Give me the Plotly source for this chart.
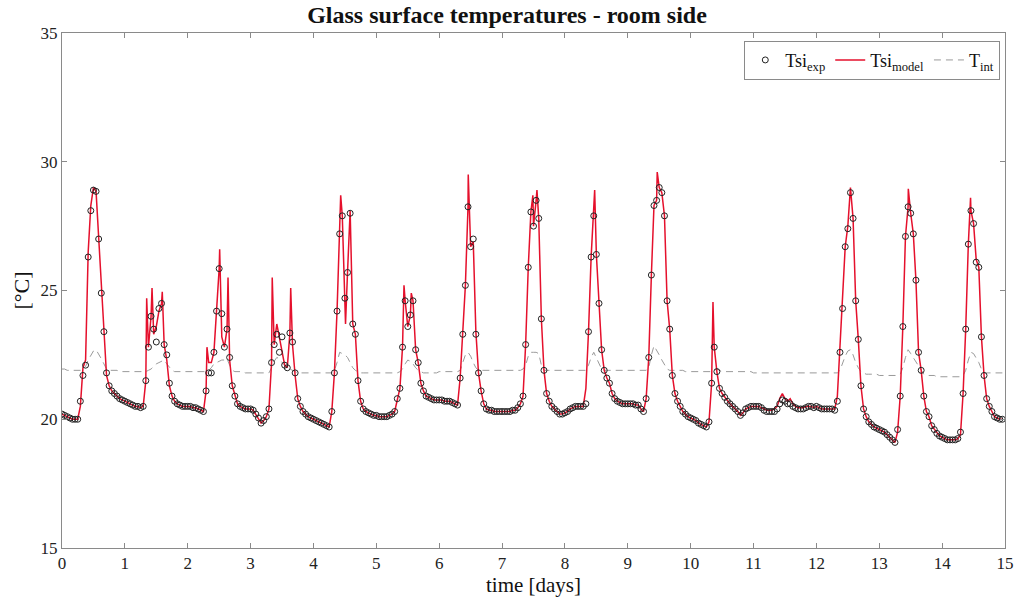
import numpy as np
import plotly.graph_objects as go

# ---------------- data (hourly, day by day) ----------------
exp_days = [
    [20.2,20.15,20.1,20.05,20.0,20.0,20.0,20.7,21.7,22.1,26.3,28.1,28.9,28.85,27.0,24.9,23.4,21.8,21.3,21.1,21.0,20.9,20.8,20.75],
    [20.7,20.65,20.6,20.55,20.5,20.5,20.45,20.5,21.5,22.8,24.0,23.5,23.0,24.3,24.5,22.9,22.5,21.4,20.9,20.7,20.6,20.55,20.5,20.5],
    [20.5,20.5,20.45,20.45,20.4,20.35,20.3,21.1,21.8,21.8,22.6,24.2,25.85,24.1,22.8,23.5,22.4,21.3,20.9,20.6,20.5,20.45,20.4,20.4],
    [20.4,20.35,20.2,20.05,19.85,19.95,20.1,20.4,22.2,22.9,23.3,22.6,23.2,22.1,22.0,23.35,23.0,21.8,20.8,20.5,20.3,20.2,20.1,20.05],
    [20.0,19.95,19.9,19.85,19.8,19.75,19.7,20.3,21.8,24.2,27.2,27.9,24.7,25.7,28.0,23.7,23.3,21.5,20.7,20.4,20.3,20.25,20.2,20.15],
    [20.15,20.1,20.1,20.1,20.1,20.15,20.2,20.3,20.8,21.2,22.8,24.6,23.6,24.05,24.6,22.7,22.2,21.4,21.1,20.9,20.85,20.8,20.75,20.75],
    [20.75,20.75,20.7,20.7,20.7,20.65,20.6,20.55,21.6,23.3,25.2,28.25,26.7,27.0,23.3,21.8,21.1,20.6,20.4,20.35,20.35,20.3,20.3,20.3],
    [20.3,20.3,20.3,20.3,20.35,20.35,20.45,20.6,20.9,22.9,25.9,28.05,27.5,28.5,27.8,23.9,21.9,21.0,20.7,20.5,20.4,20.3,20.2,20.2],
    [20.25,20.3,20.4,20.45,20.5,20.5,20.5,20.5,20.6,23.4,26.3,27.9,26.4,24.5,22.7,21.9,21.6,21.4,21.0,20.8,20.7,20.65,20.6,20.6],
    [20.6,20.6,20.6,20.55,20.55,20.4,20.3,20.8,22.4,25.6,28.3,28.5,29.0,28.8,27.9,24.6,23.5,21.7,21.0,20.7,20.5,20.3,20.2,20.1],
    [20.05,20.0,19.95,19.85,19.8,19.75,19.7,19.9,21.4,22.8,21.85,21.2,21.0,20.85,20.7,20.6,20.5,20.4,20.3,20.15,20.25,20.4,20.45,20.5],
    [20.5,20.5,20.5,20.45,20.35,20.3,20.3,20.3,20.3,20.4,20.6,20.75,20.7,20.6,20.6,20.5,20.45,20.4,20.4,20.4,20.45,20.5,20.5,20.45],
    [20.5,20.45,20.4,20.4,20.4,20.4,20.4,20.35,20.7,22.6,24.3,26.7,27.4,28.8,27.8,24.6,23.1,21.3,20.4,20.1,19.9,19.8,19.7,19.65],
    [19.6,19.55,19.5,19.4,19.3,19.2,19.1,19.6,20.9,23.6,27.1,28.25,28.0,27.2,25.4,22.6,21.9,20.9,20.3,20.1,19.75,19.6,19.45,19.35],
    [19.3,19.25,19.2,19.2,19.2,19.2,19.25,19.5,21.0,23.5,26.8,28.1,27.6,26.1,25.9,23.2,21.7,20.8,20.5,20.3,20.1,20.05,20.0,20.0],
]

model_days = [
    [20.2,20.15,20.1,20.05,20.0,20.0,20.0,20.5,22.0,22.3,26.5,28.3,29.0,28.85,27.0,24.9,23.4,21.7,21.3,21.1,21.0,20.9,20.8,20.75],
    [20.7,20.65,20.6,20.55,20.5,20.5,20.45,20.5,21.5,22.8,24.0,23.3,23.6,24.2,24.5,22.9,22.3,21.3,20.9,20.7,20.6,20.55,20.5,20.5],
    [20.5,20.5,20.45,20.45,20.4,20.35,20.3,21.1,22.2,22.2,22.6,24.2,25.85,23.2,22.8,23.5,22.3,21.3,20.9,20.6,20.5,20.45,20.4,20.4],
    [20.4,20.35,20.2,20.05,19.85,19.95,20.1,20.4,22.2,22.9,23.7,23.2,22.6,22.1,22.0,23.35,22.9,21.7,20.8,20.5,20.3,20.2,20.1,20.05],
    [20.0,19.95,19.9,19.85,19.8,19.75,19.7,20.3,21.8,24.2,27.2,27.9,24.7,25.7,28.1,23.7,23.3,21.5,20.7,20.4,20.3,20.25,20.2,20.15],
    [20.15,20.1,20.1,20.1,20.1,20.15,20.2,20.3,20.8,21.2,22.8,24.6,23.6,24.05,24.6,22.7,22.2,21.4,21.1,20.9,20.85,20.8,20.75,20.75],
    [20.75,20.75,20.7,20.7,20.7,20.65,20.6,20.55,21.6,23.3,25.2,28.25,26.7,26.9,23.4,21.8,21.1,20.6,20.4,20.35,20.35,20.3,20.3,20.3],
    [20.3,20.3,20.3,20.3,20.35,20.35,20.45,20.6,20.9,22.9,25.9,28.05,27.5,28.5,27.8,23.9,21.9,21.0,20.7,20.5,20.4,20.3,20.2,20.2],
    [20.25,20.3,20.4,20.45,20.5,20.5,20.5,20.5,21.2,23.4,26.3,27.9,26.4,24.5,22.7,21.9,21.6,21.4,21.0,20.8,20.7,20.65,20.6,20.6],
    [20.6,20.6,20.6,20.55,20.55,20.4,20.3,20.8,22.4,25.6,28.3,28.5,29.0,28.8,27.9,24.6,23.5,21.7,21.0,20.7,20.5,20.3,20.2,20.1],
    [20.05,20.0,19.95,19.85,19.8,19.75,19.7,19.9,21.4,22.8,21.85,21.2,21.0,20.85,20.7,20.6,20.5,20.4,20.3,20.15,20.25,20.4,20.45,20.5],
    [20.5,20.5,20.5,20.45,20.4,20.35,20.35,20.35,20.4,20.5,20.8,21.0,20.8,20.7,20.8,20.6,20.5,20.45,20.45,20.45,20.5,20.5,20.5,20.45],
    [20.5,20.45,20.4,20.4,20.4,20.4,20.4,20.4,20.9,23.0,24.6,26.7,27.5,29.0,27.8,24.6,23.1,21.3,20.4,20.1,19.9,19.8,19.7,19.65],
    [19.6,19.55,19.5,19.4,19.3,19.2,19.1,19.5,20.9,23.6,27.1,28.25,28.0,27.2,25.4,22.6,21.9,20.9,20.3,20.1,19.75,19.6,19.45,19.35],
    [19.3,19.25,19.2,19.2,19.2,19.2,19.25,19.4,21.0,23.5,26.8,28.1,27.6,26.2,25.9,23.2,21.7,20.8,20.5,20.3,20.1,20.05,20.0,20.0],
]

# extra model peaks between hourly samples (time in days, value)
model_peak_t = [1.347, 1.432, 1.595, 2.306, 2.508, 2.641, 3.344, 3.638, 4.433, 4.51,
                5.440, 5.556, 6.462, 7.49, 7.555, 8.473, 9.468, 10.355, 13.462, 14.452]
model_peak_v = [24.7, 25.1, 24.95, 22.8, 26.6, 25.5, 25.5, 25.1, 28.7, 23.7,
                25.2, 24.9, 29.5, 28.7, 28.9, 28.9, 29.6, 24.55, 28.95, 28.6]

tint_days = [
    [21.95,21.95,21.9,21.9,21.9,21.9,21.9,21.9,21.95,22.05,22.3,22.5,22.65,22.7,22.55,22.35,22.15,21.95,21.9,21.9,21.9,21.9,21.85,21.85],
    [21.85,21.85,21.85,21.85,21.85,21.85,21.85,21.85,21.85,21.9,21.95,22.05,22.15,22.2,22.25,22.3,22.15,22.0,21.9,21.85,21.85,21.85,21.85,21.85],
    [21.85,21.85,21.85,21.85,21.85,21.85,21.85,21.85,21.9,22.0,22.15,22.2,22.25,22.3,22.3,22.35,22.1,21.9,21.85,21.85,21.85,21.85,21.8,21.8],
    [21.8,21.8,21.8,21.8,21.8,21.8,21.8,21.8,22.0,22.25,22.4,22.35,22.2,22.1,22.0,21.95,21.9,21.85,21.8,21.8,21.8,21.8,21.8,21.8],
    [21.8,21.8,21.8,21.8,21.8,21.8,21.8,21.8,21.9,22.2,22.6,22.55,22.5,22.4,22.2,22.0,21.9,21.85,21.8,21.8,21.8,21.8,21.8,21.8],
    [21.8,21.8,21.8,21.8,21.8,21.8,21.8,21.8,21.8,21.85,21.95,22.15,22.3,22.25,22.15,22.0,21.9,21.85,21.8,21.8,21.8,21.8,21.8,21.8],
    [21.85,21.85,21.85,21.85,21.85,21.85,21.85,21.85,21.9,22.2,22.5,22.6,22.45,22.2,22.0,21.9,21.9,21.9,21.9,21.9,21.9,21.9,21.9,21.9],
    [21.9,21.9,21.9,21.9,21.9,21.9,21.9,21.9,21.95,22.1,22.45,22.6,22.6,22.6,22.55,22.1,21.9,21.9,21.9,21.9,21.9,21.9,21.9,21.9],
    [21.9,21.9,21.9,21.9,21.9,21.9,21.9,21.9,21.9,22.1,22.4,22.6,22.4,22.2,21.95,21.9,21.9,21.9,21.9,21.9,21.9,21.9,21.9,21.9],
    [21.9,21.9,21.9,21.9,21.9,21.9,21.9,21.9,22.0,22.5,22.85,22.7,22.5,22.3,22.1,21.95,21.9,21.9,21.9,21.9,21.9,21.9,21.85,21.85],
    [21.85,21.85,21.85,21.85,21.85,21.85,21.85,21.85,21.85,21.9,21.95,21.9,21.85,21.85,21.85,21.85,21.85,21.85,21.85,21.85,21.85,21.85,21.85,21.85],
    [21.8,21.8,21.8,21.8,21.8,21.8,21.8,21.8,21.8,21.8,21.8,21.8,21.8,21.8,21.8,21.8,21.8,21.8,21.8,21.8,21.8,21.8,21.8,21.8],
    [21.8,21.8,21.8,21.8,21.8,21.8,21.8,21.8,21.8,21.9,22.2,22.45,22.65,22.7,22.5,22.2,22.0,21.85,21.8,21.75,21.75,21.75,21.75,21.75],
    [21.7,21.7,21.7,21.7,21.7,21.7,21.7,21.7,21.75,22.0,22.4,22.7,22.55,22.4,22.25,22.1,21.9,21.75,21.7,21.7,21.7,21.7,21.65,21.65],
    [21.65,21.65,21.65,21.65,21.65,21.65,21.65,21.65,21.7,21.9,22.3,22.6,22.55,22.4,22.2,21.95,21.8,21.8,21.8,21.8,21.8,21.8,21.8,21.8],
]

x_ticks = list(range(0, 16))
y_ticks = [15, 20, 25, 30, 35]

# ---------------- assemble ----------------
exp_v = np.concatenate(exp_days)
model_hourly = np.concatenate(model_days)
tint_v = np.concatenate(tint_days)
t_hour = np.arange(len(exp_v)) / 24.0

mt = np.concatenate([t_hour, np.array(model_peak_t)])
mv = np.concatenate([model_hourly, np.array(model_peak_v)])
order = np.argsort(mt, kind="stable")
mt, mv = mt[order], mv[order]

SERIF = "Liberation Serif, Times New Roman, serif"
AXC = "#8a8a8a"

fig = go.Figure()
fig.add_trace(go.Scatter(
    x=t_hour, y=tint_v, mode="lines", name="T<sub>int</sub>",
    line=dict(color="#9a9a9a", width=1, dash="7px,5px"), legendrank=3))
fig.add_trace(go.Scatter(
    x=mt, y=mv, mode="lines", name="Tsi<sub>model</sub>",
    line=dict(color="#e5102c", width=1.5), legendrank=2))
fig.add_trace(go.Scatter(
    x=t_hour, y=exp_v, mode="markers", name="Tsi<sub>exp</sub>",
    marker=dict(symbol="circle-open", size=6, color="#222222", line=dict(width=1)),
    legendrank=1))

axis_common = dict(showline=True, linecolor=AXC, linewidth=1, mirror="ticks",
                   ticks="inside", ticklen=5, tickcolor=AXC, showgrid=False,
                   zeroline=False, automargin=False,
                   tickfont=dict(family=SERIF, size=17, color="#222"))

fig.update_layout(
    width=1014, height=600,
    margin=dict(l=62, r=9, t=33, b=52),
    paper_bgcolor="white", plot_bgcolor="white",
    title=dict(text="<b>Glass surface temperatures - room side</b>", x=0.5, xref="container",
               y=0.975, yanchor="middle",
               font=dict(family=SERIF, size=24, color="#111")),
    font=dict(family=SERIF, color="#111"),
    xaxis=dict(range=[0, 15], tickvals=x_ticks,
               title=dict(text="time [days]", font=dict(family=SERIF, size=21), standoff=3),
               **axis_common),
    yaxis=dict(range=[15, 35], tickvals=y_ticks,
               title=dict(text="[°C]", font=dict(family=SERIF, size=22), standoff=4),
               **axis_common),
    legend=dict(orientation="h", x=0.995, xanchor="right", y=0.985, yanchor="top",
                bgcolor="white", bordercolor=AXC, borderwidth=1,
                font=dict(family=SERIF, size=18, color="#111"),
                itemwidth=30, tracegroupgap=0),
    showlegend=True,
)

fig.write_html("out.html", config={"displayModeBar": False},
               post_script="document.body.style.margin='0';")
